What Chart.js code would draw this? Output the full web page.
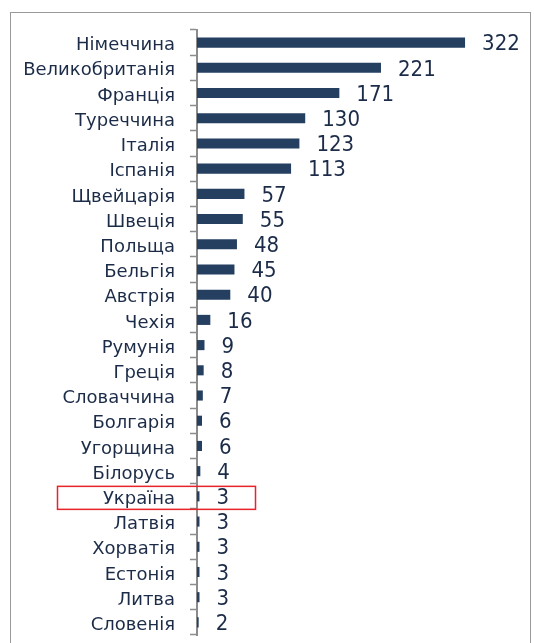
<!DOCTYPE html>
<html>
<head>
<meta charset="utf-8">
<script src="https://cdn.jsdelivr.net/npm/chart.js@4"></script>
<style>
  html, body { margin: 0; padding: 0; background: #fff; }
  #wrap { width: 534px; height: 643px; position: relative; }
</style>
</head>
<body>
<div id="wrap"><canvas id="barChart" width="534" height="643"></canvas></div>
<script>
// countries and values
var countries = ["Німеччина", "Великобританія", "Франція", "Туреччина", "Італія", "Іспанія",
    "Щвейцарія", "Швеція", "Польща", "Бельгія", "Австрія", "Чехія", "Румунія", "Греція",
    "Словаччина", "Болгарія", "Угорщина", "Білорусь", "Україна", "Латвія", "Хорватія",
    "Естонія", "Литва", "Словенія"];
var values = [322, 221, 171, 130, 123, 113, 57, 55, 48, 45, 40, 16, 9, 8, 7, 6, 6, 4, 3, 3, 3, 3, 3, 2];
var highlighted = "Україна";

var textColor = "#1c2c48";
var barColor = "#253f60";

// value labels + frame + red box
var extras = {
    id: "extras",
    afterDatasetsDraw: function (chart) {
        var ctx = chart.ctx;
        var meta = chart.getDatasetMeta(0);
        ctx.save();
        ctx.fillStyle = textColor;
        ctx.font = "22px 'DejaVu Sans Condensed', 'DejaVu Sans'";
        ctx.textBaseline = "middle";
        ctx.textAlign = "left";
        for (var i = 0; i < meta.data.length; i++) {
            var bar = meta.data[i];
            ctx.fillText(values[i], bar.x + 17, bar.y + 2);
        }

        // red box round the highlighted row
        var idx = countries.indexOf(highlighted);
        var yScale = chart.scales.y;
        var cy = yScale.getPixelForValue(idx);
        ctx.strokeStyle = "#e8232a";
        ctx.lineWidth = 1.5;
        ctx.strokeRect(57.5, cy - 10, 198, 23);

        // outer frame
        ctx.strokeStyle = "#999999";
        ctx.lineWidth = 1;
        ctx.strokeRect(10.5, 12.5, 520, 640);
        ctx.restore();
    }
};

function load() {
    new Chart("barChart", {
        type: "bar",
        data: {
            labels: countries,
            datasets: [
                {
                    data: values,
                    backgroundColor: barColor,
                    borderWidth: 0,
                    barPercentage: 0.4,
                    categoryPercentage: 1.0
                }
            ]
        },
        options: {
            indexAxis: "y",
            responsive: false,
            animation: false,
            layout: { padding: { top: 30, bottom: 8, left: 10, right: 4 } },
            plugins: {
                legend: { display: false },
                tooltip: { enabled: false }
            },
            scales: {
                x: {
                    display: false,
                    min: 0,
                    max: 400
                },
                y: {
                    afterFit: function (scale) {
                        scale.width = 187;
                        scale.paddingTop = 0;
                        scale.paddingBottom = 0;
                    },
                    ticks: {
                        color: textColor,
                        font: { family: "'DejaVu Sans'", size: 18 },
                        padding: 15,
                        labelOffset: 3,
                        autoSkip: false
                    },
                    grid: {
                        offset: true,
                        drawOnChartArea: false,
                        drawTicks: true,
                        tickLength: 7,
                        tickColor: "#8c8c8c",
                        tickWidth: 1.5
                    },
                    border: { display: true, color: "#8c8c8c", width: 2 }
                }
            }
        },
        plugins: [extras]
    });
}

load();
</script>
</body>
</html>
